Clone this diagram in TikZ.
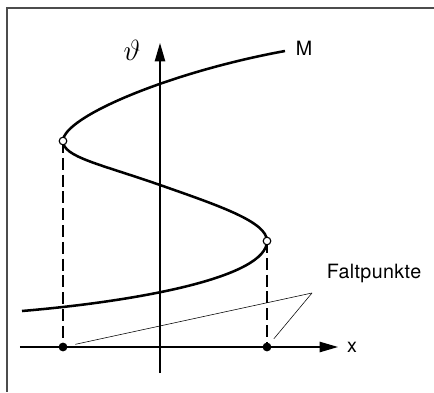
\documentclass[tikz,border=0pt]{standalone}
\usepackage{fontspec}
\newfontfamily\lblfont[LetterSpace=2]{TeX Gyre Heros}
\usetikzlibrary{arrows.meta}

\begin{document}
\begin{tikzpicture}[x=0.25mm,y=0.25mm,
  axis/.style={line width=0.9pt,-{Triangle[length=4.6mm,width=2.6mm]}},
  branch/.style={line width=1.8pt},
  fold/.style={circle,draw,fill=white,line width=0.8pt,inner sep=0pt,minimum size=1.9mm},
  foot/.style={circle,fill=black,inner sep=0pt,minimum size=2.2mm},
  lbl/.style={font=\lblfont\fontsize{14}{16}\selectfont}]

\useasboundingbox (-160,-45) rectangle (274,347);

% Frame
\draw[line width=0.9pt,black!70] (274,339) -- (-153,339) -- (-153,-45);

% Axes
\draw[axis] (-140,0) -- (178,0);
\draw[axis] (0,-26) -- (0,304);
\node[lbl] (xlab) at (192,0) {x};
\node[font=\huge] (thlab) at (-28,297) {$\vartheta$};

% Fold points
\coordinate (A) at (-97,206);
\coordinate (B) at (107,106);

% S-shaped curve
\draw[branch] (-138,36) .. controls (-20,46) and (107,70) .. (B)
  .. controls (107,125) and (60,141) .. (0,162)
  .. controls (-60,183) and (-97,190) .. (A)
  .. controls (-97,230) and (10,275) .. (125,296);
\node[lbl] (mlab) at (144,299) {M};

% Projections onto the x-axis
\node[foot] (leftdot) at (-97,0) {};
\node[foot] (rightdot) at (107,0) {};
\draw[line width=0.8pt,dash pattern=on 3mm off 1.2mm] (A) -- (leftdot);
\draw[line width=0.8pt,dash pattern=on 3mm off 1.2mm] (B) -- (rightdot);
\node[fold] (upfold) at (A) {};
\node[fold] (lowfold) at (B) {};

% Label
\node[lbl] (falt) at (214,74) {Faltpunkte};
\coordinate (tip) at (152,54);
\draw[line width=0.4pt,shorten >=2mm] (tip) -- (leftdot);
\draw[line width=0.4pt,shorten >=1.5mm] (tip) -- (rightdot);

\end{tikzpicture}
\end{document}
